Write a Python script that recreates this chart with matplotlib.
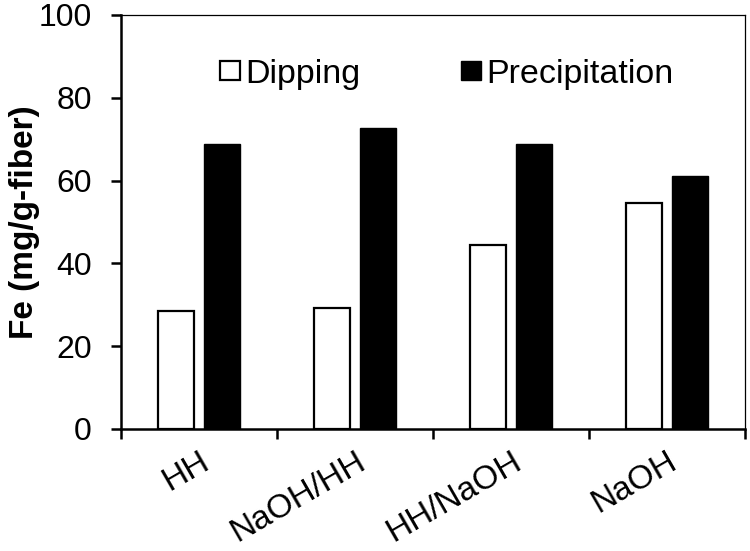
import matplotlib
matplotlib.use("Agg")
import matplotlib.pyplot as plt
from matplotlib.transforms import ScaledTranslation
import numpy as np

categories = ["HH", "NaOH/HH", "HH/NaOH", "NaOH"]
dipping = [28.6, 29.3, 44.5, 54.6]
precipitation = [68.8, 72.8, 68.8, 61.1]

plt.rcParams['font.family'] = ['Liberation Sans', 'DejaVu Sans']

fig = plt.figure(figsize=(7.5, 5.51), dpi=100)
ax = fig.add_axes([121/750, 1-429/551, (745-121)/750, (429-15)/551])

x = np.arange(len(categories))
w = 0.23
off = 0.145
ax.bar(x - off, dipping, w, color='white', edgecolor='black', linewidth=1.6, label='Dipping')
ax.bar(x + off, precipitation, w, color='black', edgecolor='black', linewidth=1.0, label='Precipitation')

ax.set_xlim(-0.5, len(categories) - 0.5)
ax.set_ylim(0, 100)
ax.set_yticks([0, 20, 40, 60, 80, 100])
ax.set_xticks(np.arange(len(categories) + 1) - 0.5)
ax.set_xticklabels([])
ax.set_xticks(x, minor=True)
ax.set_xticklabels(categories, minor=True, rotation=30, ha='right', va='top',
                   rotation_mode='anchor', fontsize=24)
for lbl in ax.get_xticklabels(minor=True):
    lbl.set_transform(lbl.get_transform() + ScaledTranslation(-19/100, 0, fig.dpi_scale_trans))
ax.tick_params(axis='x', which='minor', length=0, pad=12)
ax.tick_params(axis='x', which='major', direction='out', length=7, width=1.8)
ax.tick_params(axis='y', direction='out', length=7, width=1.8, labelsize=23, pad=14)

for s in ['left', 'bottom']:
    ax.spines[s].set_linewidth(1.8)
for s in ['top', 'right']:
    ax.spines[s].set_linewidth(0.9)

ax.set_ylabel('Fe (mg/g-fiber)', fontsize=24, fontweight='bold', labelpad=-1)

ax.legend(loc='center', bbox_to_anchor=(0.522, 0.857), ncol=2, frameon=False,
          fontsize=24.5, handlelength=0.6, handleheight=0.47, handletextpad=0.15,
          columnspacing=2.95, borderaxespad=0)

fig.savefig('out.png', dpi=100)
